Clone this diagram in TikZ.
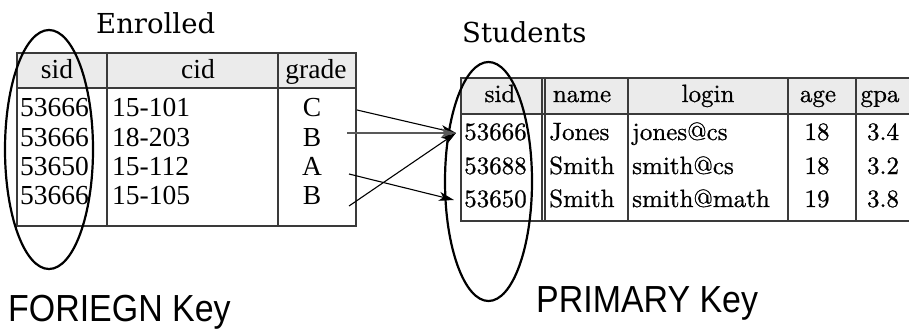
\documentclass[tikz,border=0pt]{standalone}
\usepackage{fontspec}
\usetikzlibrary{arrows.meta}
\newfontfamily\enrfont{Liberation Serif}
\newfontfamily\titlefont{DejaVu Serif}
\newfontfamily\keyfont{Liberation Sans}
\newfontfamily\stufont{lmroman10-regular}[Extension=.otf, FakeBold=0.8]
\definecolor{headgray}{HTML}{EBEBEB}
\definecolor{rulegray}{HTML}{3A3A3A}
\begin{document}
\begin{tikzpicture}[x=1pt,y=-1pt,
  frame/.style={draw=rulegray, line width=1.8pt},
  colrule/.style={draw=rulegray, line width=1.3pt},
  headfill/.style={fill=headgray},
  etxt/.style={font=\enrfont\fontsize{27.5}{30}\selectfont, inner sep=0pt},
  stxt/.style={font=\stufont\fontsize{25}{28}\selectfont, inner sep=0pt},
  ttl/.style={font=\titlefont\fontsize{27.5}{30}\selectfont, inner sep=0pt, anchor=base west},
  keylbl/.style={font=\keyfont\fontsize{37.7}{40}\selectfont, inner sep=0pt, anchor=base west, xscale=0.9},
  keyring/.style={draw=black, line width=2.2pt},
  ref/.style={draw=black, line width=1.1pt, -{Stealth[length=15pt, width=9pt, inset=4pt]}},
  refgray/.style={draw=black!65, line width=1.8pt, -{Stealth[length=15pt, width=9pt, inset=4pt]}}
]
\useasboundingbox (0,0) rectangle (909,330);
\clip (0,0) rectangle (909,330);

% ---------- Enrolled ----------
\node[ttl] (enrTitle) at (96,33) {Enrolled};
\fill[headfill] (17,53) rectangle (356,88);
\draw[colrule] (17,88) -- (356,88);
\draw[colrule] (107,53) -- (107,226);
\draw[colrule] (278,53) -- (278,226);
\draw[frame] (17,53) rectangle (356,226);

\node[etxt, anchor=base] (eh1) at (57,78) {sid};
\node[etxt, anchor=base] (eh2) at (198,78) {cid};
\node[etxt, anchor=base] (eh3) at (316,78) {grade};

\node[etxt, anchor=base west] (e1a) at (20,116) {53666};
\node[etxt, anchor=base west] (e1b) at (112,116) {15-101};
\node[etxt, anchor=base] (e1c) at (312,116) {C};
\node[etxt, anchor=base west] (e2a) at (20,146) {53666};
\node[etxt, anchor=base west] (e2b) at (112,146) {18-203};
\node[etxt, anchor=base] (e2c) at (312,146) {B};
\node[etxt, anchor=base west] (e3a) at (20,175) {53650};
\node[etxt, anchor=base west] (e3b) at (112,175) {15-112};
\node[etxt, anchor=base] (e3c) at (312,175) {A};
\node[etxt, anchor=base west] (e4a) at (20,204) {53666};
\node[etxt, anchor=base west] (e4b) at (112,204) {15-105};
\node[etxt, anchor=base] (e4c) at (312,204) {B};

% ---------- Students ----------
\node[ttl] (stuTitle) at (462,42) {Students};
\fill[headfill] (461,78) rectangle (930,114);
\draw[colrule] (461,114) -- (930,114);
\draw[colrule] (542,78) -- (542,221);
\draw[colrule] (545,78) -- (545,221);
\draw[colrule] (628,78) -- (628,221);
\draw[colrule] (788,78) -- (788,221);
\draw[colrule] (856,78) -- (856,221);
\draw[frame] (461,78) rectangle (930,221);

\node[stxt, anchor=base] (sh1) at (500,102) {sid};
\node[stxt, anchor=base] (sh2) at (582,102) {name};
\node[stxt, anchor=base] (sh3) at (708,102) {login};
\node[stxt, anchor=base] (sh4) at (818,102) {age};
\node[stxt, anchor=base] (sh5) at (880,102) {gpa};

\node[stxt, anchor=base west] (s1a) at (464,140) {53666};
\node[stxt, anchor=base west] (s1b) at (549,140) {Jones};
\node[stxt, anchor=base west] (s1c) at (632,140) {jones@cs};
\node[stxt, anchor=base] (s1d) at (817,140) {18};
\node[stxt, anchor=base] (s1e) at (883,140) {3.4};
\node[stxt, anchor=base west] (s2a) at (464,174) {53688};
\node[stxt, anchor=base west] (s2b) at (549,174) {Smith};
\node[stxt, anchor=base west] (s2c) at (632,174) {smith@cs};
\node[stxt, anchor=base] (s2d) at (817,174) {18};
\node[stxt, anchor=base] (s2e) at (883,174) {3.2};
\node[stxt, anchor=base west] (s3a) at (464,207) {53650};
\node[stxt, anchor=base west] (s3b) at (549,207) {Smith};
\node[stxt, anchor=base west] (s3c) at (632,207) {smith@math};
\node[stxt, anchor=base] (s3d) at (817,207) {19};
\node[stxt, anchor=base] (s3e) at (883,207) {3.8};

% ---------- key outlines ----------
\draw[keyring] (49,149.5) ellipse [x radius=44pt, y radius=119.5pt];
\draw[keyring] (488.5,181.5) ellipse [x radius=43.5pt, y radius=119.5pt];

% ---------- references from Enrolled.sid to Students.sid ----------
\coordinate (r1) at (357,110);
\coordinate (r2) at (347,133);
\coordinate (r3) at (349,174);
\coordinate (r4) at (349,206);
\coordinate (hit1) at (456,133);
\coordinate (hit3) at (454,200);
\draw[ref] (r1) -- (hit1);
\draw[refgray] (r2) -- (hit1);
\draw[ref] (r3) -- (hit3);
\draw[ref] (r4) -- (hit1);

% ---------- labels ----------
\node[keylbl] (fkLabel) at (8,321) {FORIEGN Key};
\node[keylbl] (pkLabel) at (536,312) {PRIMARY Key};
\end{tikzpicture}
\end{document}
